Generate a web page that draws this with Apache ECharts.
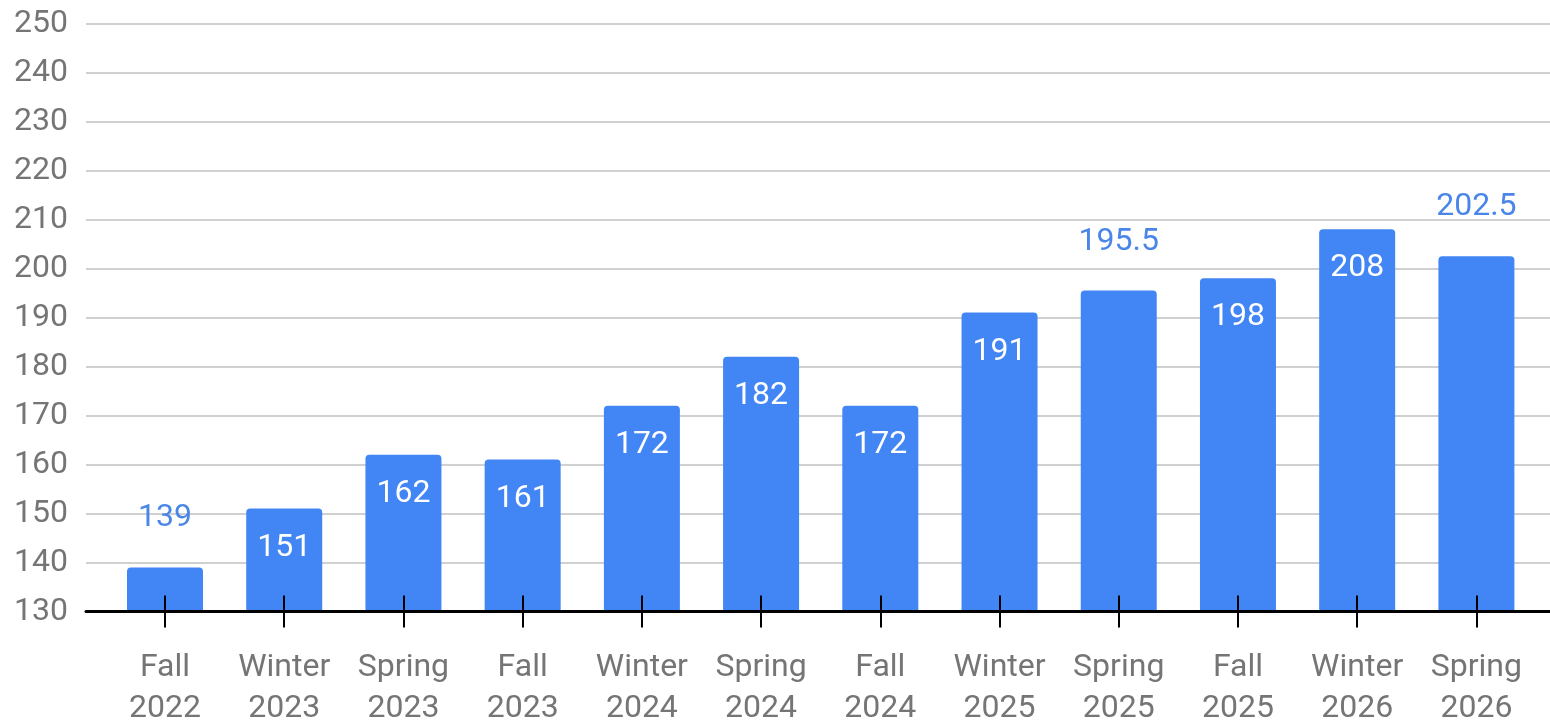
<!DOCTYPE html>
<html>
<head>
<meta charset="utf-8">
<script src="https://cdn.jsdelivr.net/npm/echarts@6/dist/echarts.min.js"></script>
<style>
html,body{margin:0;padding:0;background:#fff;}
#chart{width:1550px;height:721px;}
</style>
</head>
<body>
<div id="chart"></div>
<script>
var categories = ['Fall\n2022','Winter\n2023','Spring\n2023','Fall\n2023','Winter\n2024','Spring\n2024','Fall\n2024','Winter\n2025','Spring\n2025','Fall\n2025','Winter\n2026','Spring\n2026'];
var values = [139,151,162,161,172,182,172,191,195.5,198,208,202.5];
var outsideLabelIdx = [0,8,11];
var yMin = 130, yMax = 250, yStep = 10;

var FONT = 'Roboto';
var GREY = '#757575';
var BAR = '#4285f4';

var chart = echarts.init(document.getElementById('chart'));
var gridTop = 23.5, gridBottom = 109.5;

var barData = values.map(function(v, i){
  var outside = outsideLabelIdx.indexOf(i) >= 0;
  return {
    value: v,
    label: outside ? {position:'top', distance:33, color:'#4a86e8'} : {position:'insideTop', distance:23, color:'#ffffff'}
  };
});

chart.setOption({
  animation:false,
  grid:[
    {left:86, right:0, top:gridTop, bottom:gridBottom, containLabel:false, outerBoundsMode:'none'},
    {left:105.4, right:14, top:gridTop, bottom:gridBottom, containLabel:false, outerBoundsMode:'none'}
  ],
  xAxis:[
    {gridIndex:0, type:'value', min:0, max:1, z:5,
      axisLine:{show:true, onZero:false, lineStyle:{color:'#000', width:3}},
      axisTick:{show:false}, axisLabel:{show:false}, splitLine:{show:false}},
    {gridIndex:1, type:'category', data:categories, boundaryGap:true, z:5,
      axisLine:{show:false},
      axisTick:{show:true, alignWithLabel:true, length:16, lineStyle:{color:'#000', width:2}},
      axisLabel:{show:true, margin:36, color:GREY, fontFamily:FONT, fontSize:32, lineHeight:41, interval:0},
      splitLine:{show:false}},
    {gridIndex:1, type:'category', data:categories, boundaryGap:true, z:5, position:'bottom',
      axisLine:{show:false},
      axisTick:{show:true, inside:true, alignWithLabel:true, length:16, lineStyle:{color:'#000', width:2}},
      axisLabel:{show:false}, splitLine:{show:false}}
  ],
  yAxis:[
    {gridIndex:0, type:'value', min:yMin, max:yMax, interval:yStep,
      axisLine:{show:false}, axisTick:{show:false},
      axisLabel:{color:GREY, fontFamily:FONT, fontSize:32, margin:18},
      splitLine:{show:true, showMinLine:false, lineStyle:{color:'#d0d0d0', width:2}}},
    {gridIndex:1, type:'value', min:yMin, max:yMax, interval:yStep, show:false,
      splitLine:{show:false}}
  ],
  series:[{
    type:'bar', xAxisIndex:1, yAxisIndex:1, data:barData,
    barWidth:76, z:3,
    itemStyle:{color:BAR, borderRadius:[4,4,0,0]},
    label:{show:true, fontFamily:FONT, fontSize:32, lineHeight:32}
  }]
});
</script>
</body>
</html>
